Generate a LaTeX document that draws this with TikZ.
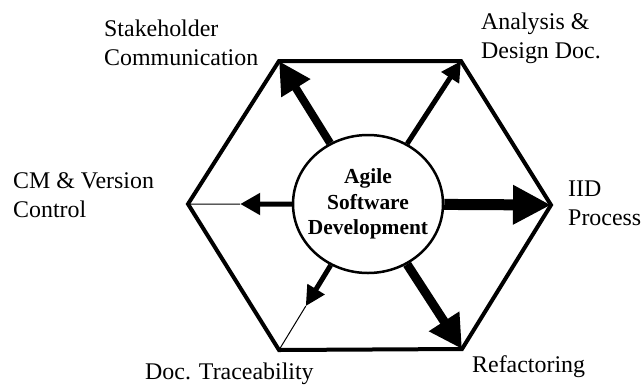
\documentclass[tikz,border=0pt]{standalone}
\usepackage{fontspec}
\setmainfont{Liberation Serif}
\usetikzlibrary{arrows.meta, calc, shapes.geometric}

\begin{document}
\begin{tikzpicture}[x=1bp, y=-1bp, line join=miter,
   sidetext/.style={align=left, anchor=base west, inner sep=0pt,
     font=\fontsize{24}{28.5}\selectfont},
   rim/.style={line width=4bp},
   thinline/.style={line width=1bp}]
   \useasboundingbox (0,0) rectangle (642,384);
   % hexagon corners
   \coordinate (h_0) at (188,204);
   \coordinate (h_1) at (279,61);
   \coordinate (h_2) at (461,61);
   \coordinate (h_3) at (551,205);
   \coordinate (h_4) at (462,349);
   \coordinate (h_5) at (279,350);
   \draw[rim] (h_0) -- (h_1) -- (h_2) -- (h_3) -- (h_4) -- (h_5) -- cycle;
   \node[ellipse, draw, line width=2.5bp, fill=white, minimum width=150bp,
     minimum height=138bp, inner xsep=-9bp, inner ysep=10bp, align=center,
     font=\bfseries\fontsize{21.5}{25.5}\selectfont] (core) at (368,204)
     {Agile\\Software\\Development};
   \coordinate (cm_end) at ($(core.center)!0.71!(h_0)$);
   \coordinate (dt_end) at ($(core.center)!0.70!(h_5)$);
   \draw[thinline] (h_0) -- (cm_end);
   \draw[thinline] (h_5) -- (dt_end);
   \path
    (core) edge [line width=8bp, -{Triangle[length=32bp,width=32bp]}] (h_1)
           edge [line width=5bp, -{Triangle[length=20bp,width=20bp]}] (h_2)
           edge [line width=11bp, -{Triangle[length=38bp,width=37bp]}] (h_3)
           edge [line width=9bp, -{Triangle[length=33bp,width=34bp]}] (h_4)
           edge [line width=5bp, -{Triangle[length=20bp,width=19bp]}] (dt_end)
           edge [line width=5bp, -{Triangle[length=20bp,width=21bp]}] (cm_end);
   % labels
   \node[sidetext] (sc) at (104,65) {Stakeholder\\Communication};
   \node[sidetext] (ad) at (481,58) {Analysis \&\\Design Doc.};
   \node[sidetext] (cm) at (13,217) {CM \& Version\\Control};
   \node[sidetext] (iid) at (568,225) {IID\\Process};
   \node[sidetext] (dt) at (145,379) {Doc. Traceability};
   \node[sidetext] (rf) at (472,372) {Refactoring};
\end{tikzpicture}
\end{document}
